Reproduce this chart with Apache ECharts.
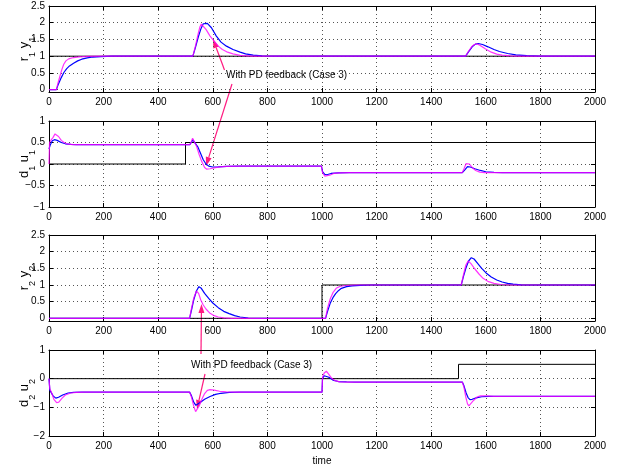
<!DOCTYPE html>
<html>
<head>
<meta charset="utf-8">
<script src="https://cdn.jsdelivr.net/npm/echarts@6/dist/echarts.min.js"></script>
<style>
html, body { margin: 0; background: #fff; }
#chart { width: 624px; height: 472px; }
</style>
</head>
<body>
<div id="chart"></div>
<script>
// time axis
var timeRange = [0, 2000];
var timeStep = 200;

// panel 1: r1 (black), y1 without PD (blue), y1 with PD (magenta)
var r1 = [[0, 1], [2000, 1]];
var y1Blue = [[0, 0], [27, 0], [35, 0.18], [45, 0.36], [55, 0.52], [65, 0.63], [75, 0.71], [90, 0.79], [105, 0.86],
  [120, 0.91], [140, 0.95], [160, 0.975], [190, 0.99], [230, 1], [527, 1], [537, 1.28], [547, 1.58], [557, 1.83],
  [565, 1.97], [572, 2.01], [580, 1.98], [595, 1.85], [613, 1.6], [630, 1.42], [650, 1.3], [674, 1.2], [700, 1.12],
  [720, 1.07], [748, 1.03], [780, 1.01], [830, 1], [1526, 1], [1536, 1.12], [1550, 1.28], [1562, 1.36], [1572, 1.38],
  [1588, 1.35], [1608, 1.28], [1630, 1.2], [1650, 1.14], [1680, 1.08], [1710, 1.04], [1750, 1.015], [1800, 1], [2000, 1]];
var y1Pd = [[0, 0], [27, 0], [33, 0.2], [40, 0.4], [47, 0.6], [54, 0.76], [62, 0.86], [72, 0.92], [90, 0.96],
  [110, 0.98], [140, 0.995], [200, 1], [527, 1], [537, 1.32], [546, 1.66], [553, 1.88], [558, 1.96], [565, 1.92],
  [575, 1.8], [590, 1.6], [602, 1.48], [620, 1.3], [635, 1.2], [651, 1.13], [674, 1.07], [700, 1.025], [740, 1],
  [1526, 1], [1536, 1.14], [1548, 1.28], [1558, 1.35], [1566, 1.37], [1578, 1.33], [1598, 1.22], [1620, 1.12],
  [1640, 1.06], [1660, 1.03], [1690, 1.01], [1720, 1], [2000, 1]];

// panel 2: d1 (black), u1 without PD (blue), u1 with PD (magenta)
var d1 = [[0, 0], [500, 0], [500, 0.5], [2000, 0.5]];
var u1Blue = [[0, 0.35], [5, 0.45], [12, 0.54], [20, 0.565], [30, 0.55], [45, 0.5], [60, 0.47], [80, 0.455],
  [100, 0.45], [516, 0.45], [521, 0.5], [527, 0.56], [534, 0.53], [545, 0.4], [555, 0.25], [565, 0.1], [575, 0.0],
  [585, -0.05], [600, -0.07], [620, -0.065], [650, -0.055], [700, -0.05], [998, -0.05], [1002, -0.18], [1010, -0.24],
  [1018, -0.25], [1033, -0.22], [1060, -0.205], [1100, -0.2], [1514, -0.2], [1524, -0.13], [1533, -0.06],
  [1543, -0.07], [1560, -0.11], [1580, -0.15], [1600, -0.18], [1630, -0.195], [1660, -0.2], [2000, -0.2]];
var u1Pd = [[0, 0], [2, 0.5], [8, 0.56], [15, 0.62], [22, 0.7], [28, 0.7], [35, 0.64], [45, 0.55], [55, 0.5],
  [70, 0.46], [90, 0.45], [516, 0.45], [521, 0.52], [526, 0.6], [531, 0.56], [540, 0.42], [550, 0.22], [560, 0.05],
  [570, -0.08], [578, -0.12], [590, -0.11], [605, -0.09], [625, -0.065], [650, -0.055], [700, -0.05], [998, -0.05],
  [1002, -0.2], [1010, -0.28], [1017, -0.3], [1028, -0.26], [1043, -0.22], [1065, -0.205], [1100, -0.2],
  [1514, -0.2], [1521, -0.1], [1528, 0.01], [1533, 0.03], [1540, 0.0], [1550, -0.08], [1563, -0.15],
  [1578, -0.19], [1595, -0.2], [2000, -0.2]];

// panel 3: r2 (black), y2 without PD (blue), y2 with PD (magenta)
var r2 = [[0, 0], [1000, 0], [1000, 1], [2000, 1]];
var y2Blue = [[0, 0], [515, 0], [522, 0.25], [530, 0.55], [540, 0.82], [549, 0.95], [558, 0.9], [570, 0.75],
  [585, 0.6], [600, 0.46], [620, 0.32], [640, 0.21], [660, 0.14], [680, 0.08], [700, 0.04], [730, 0.01], [760, 0],
  [1013, 0], [1020, 0.2], [1030, 0.45], [1040, 0.62], [1050, 0.74], [1060, 0.83], [1071, 0.9], [1090, 0.95],
  [1110, 0.975], [1140, 0.99], [1180, 1], [1510, 1], [1518, 1.25], [1527, 1.5], [1537, 1.72], [1547, 1.82],
  [1557, 1.78], [1570, 1.65], [1585, 1.5], [1600, 1.37], [1620, 1.24], [1640, 1.15], [1660, 1.09], [1680, 1.05],
  [1700, 1.025], [1730, 1.005], [1760, 1], [2000, 1]];
var y2Pd = [[0, 0], [515, 0], [522, 0.3], [530, 0.6], [540, 0.82], [548, 0.75], [556, 0.55], [565, 0.4],
  [575, 0.28], [590, 0.15], [605, 0.08], [620, 0.04], [640, 0.015], [670, 0], [1013, 0], [1020, 0.3], [1030, 0.58],
  [1040, 0.77], [1052, 0.9], [1065, 0.955], [1085, 0.985], [1120, 1], [1510, 1], [1518, 1.3], [1527, 1.6],
  [1535, 1.72], [1545, 1.65], [1560, 1.48], [1575, 1.33], [1590, 1.2], [1610, 1.1], [1630, 1.05], [1655, 1.015],
  [1690, 1], [2000, 1]];

// panel 4: d2 (black), u2 without PD (blue), u2 with PD (magenta)
var d2 = [[0, 0], [1500, 0], [1500, 0.5], [2000, 0.5]];
var u2Blue = [[0, 0], [3, -0.4], [8, -0.45], [15, -0.6], [25, -0.68], [35, -0.65], [50, -0.57], [70, -0.5],
  [90, -0.48], [120, -0.47], [515, -0.47], [522, -0.6], [530, -0.82], [538, -0.93], [545, -0.9], [555, -0.82],
  [570, -0.72], [590, -0.62], [610, -0.55], [630, -0.51], [660, -0.48], [700, -0.47], [1000, -0.47], [1002, 0.02],
  [1008, 0.1], [1015, 0.12], [1025, 0.05], [1040, -0.05], [1060, -0.1], [1090, -0.115], [1120, -0.12],
  [1514, -0.12], [1520, -0.25], [1528, -0.5], [1535, -0.66], [1542, -0.73], [1550, -0.72], [1565, -0.67],
  [1585, -0.63], [1610, -0.62], [2000, -0.62]];
var u2Pd = [[0, 0], [3, -0.35], [10, -0.5], [18, -0.72], [28, -0.84], [36, -0.82], [48, -0.68], [60, -0.57],
  [80, -0.5], [100, -0.48], [130, -0.47], [515, -0.47], [522, -0.65], [530, -0.95], [537, -1.15], [543, -1.12],
  [550, -0.95], [560, -0.72], [570, -0.52], [580, -0.41], [590, -0.38], [605, -0.4], [625, -0.44], [650, -0.46],
  [680, -0.47], [1000, -0.47], [1002, 0.05], [1008, 0.2], [1016, 0.26], [1025, 0.15], [1035, 0.02], [1048, -0.07],
  [1065, -0.11], [1100, -0.12], [1514, -0.12], [1520, -0.3], [1527, -0.65], [1533, -0.88], [1538, -0.95],
  [1545, -0.9], [1555, -0.76], [1568, -0.64], [1580, -0.6], [1600, -0.6], [1630, -0.615], [1660, -0.62], [2000, -0.62]];

// y axis ranges and label steps
var yRanges = [[-0.07, 2.5], [-1, 1], [-0.08, 2.5], [-2, 1]];
var ySteps = [0.5, 0.5, 0.5, 1];
var yNames = ['{m|r}{s|1}{m| y}{s|1}', '{m|d}{s|1}{m| u}{s|1}', '{m|r}{s|2}{m| y}{s|2}', '{m|d}{s|2}{m| u}{s|2}'];
var annotationText = 'With PD feedback (Case 3)';

var font = 'Liberation Sans, Arial, sans-serif';
var gridTops = [6, 121, 235, 350];
var panels = [[r1, y1Blue, y1Pd], [d1, u1Blue, u1Pd], [r2, y2Blue, y2Pd], [d2, u2Blue, u2Pd]];

var grids = [], xAxes = [], yAxes = [], series = [];

function fmt(step) {
  return function (v) {
    var k = v / step;
    if (Math.abs(k - Math.round(k)) > 1e-6) return '';
    return String(+v.toFixed(2)).replace('-', '\u2212');
  };
}

panels.forEach(function (p, i) {
  grids.push({ left: 49, width: 546, top: gridTops[i], height: 86, containLabel: false, outerBoundsMode: 'none' });
  var axLine = { onZero: false, lineStyle: { color: '#000', width: 1 } };
  var tick = { inside: true, length: 4, lineStyle: { color: '#000' } };
  xAxes.push({
    type: 'value', gridIndex: i, min: timeRange[0], max: timeRange[1], interval: timeStep,
    axisLine: axLine, axisTick: tick,
    axisLabel: { fontSize: 10, color: '#000', margin: 5, fontFamily: font, formatter: function (v) { return String(v); } },
    splitLine: { show: true, lineStyle: { color: '#555', type: [1, 3], width: 1 } },
    name: i === 3 ? 'time' : '', nameLocation: 'middle', nameGap: 20, nameMoveOverlap: false,
    nameTextStyle: { fontSize: 10, color: '#000', fontFamily: font }
  });
  xAxes.push({
    type: 'value', gridIndex: i, position: 'top', min: timeRange[0], max: timeRange[1], interval: timeStep,
    axisLine: axLine, axisTick: tick, axisLabel: { show: false }, splitLine: { show: false }
  });
  var yBase = {
    type: 'value', gridIndex: i, min: yRanges[i][0], max: yRanges[i][1],
    axisLine: axLine, axisTick: tick
  };
  if (i === 1 || i === 3) yBase.interval = ySteps[i];
  else yBase.splitNumber = 5;
  yAxes.push(Object.assign({}, yBase, {
    axisLabel: { fontSize: 10, color: '#000', margin: 4, fontFamily: font, formatter: fmt(ySteps[i]) },
    splitLine: { show: true, lineStyle: { color: '#555', type: [1, 3], width: 1 } },
    name: yNames[i], nameLocation: 'middle', nameRotate: 90, nameGap: 12, nameMoveOverlap: false,
    nameTextStyle: {
      color: '#000', fontFamily: font,
      rich: {
        m: { fontSize: 13, lineHeight: 26, color: '#000', fontFamily: font },
        s: { fontSize: 9, lineHeight: 9, verticalAlign: 'bottom', color: '#000', fontFamily: font }
      }
    }
  }));
  yAxes.push(Object.assign({}, yBase, {
    position: 'right', axisLabel: { show: false }, splitLine: { show: false }
  }));
  var colors = ['#000000', '#0000ff', '#ff00ff'];
  var widths = [1, 1.2, 1.2];
  var opac = [1, 1, 0.8];
  p.forEach(function (d, j) {
    series.push({
      type: 'line', xAxisIndex: i * 2, yAxisIndex: i * 2, data: d,
      symbol: 'none', silent: true,
      lineStyle: { color: colors[j], width: widths[j], opacity: opac[j] }
    });
  });
});

var pink = '#ff1a80';
function arrow(x1, y1, x2, y2) {
  var a = Math.atan2(y2 - y1, x2 - x1), L = 9, W = 3;
  var bx = x2 - L * Math.cos(a), by = y2 - L * Math.sin(a);
  var nx = -Math.sin(a) * W, ny = Math.cos(a) * W;
  return [
    { type: 'line', shape: { x1: x1, y1: y1, x2: bx, y2: by }, style: { stroke: pink, lineWidth: 1.2 } },
    { type: 'polygon', shape: { points: [[x2, y2], [bx + nx, by + ny], [bx - nx, by - ny]] }, style: { fill: pink } }
  ];
}

var graphic = [].concat(
  arrow(224.5, 70, 213, 39),
  arrow(232, 84, 206, 166),
  arrow(201, 354, 201.5, 304),
  arrow(205, 374, 197, 409),
  [
    { type: 'text', left: 226, top: 70, style: { text: annotationText, fontSize: 10, fill: '#000', font: '10px ' + font } },
    { type: 'text', left: 191, top: 360, style: { text: annotationText, fontSize: 10, fill: '#000', font: '10px ' + font } }
  ]
);

var chart = echarts.init(document.getElementById('chart'));
chart.setOption({
  animation: false,
  backgroundColor: '#fff',
  grid: grids,
  xAxis: xAxes,
  yAxis: yAxes,
  series: series,
  graphic: graphic
});
</script>
</body>
</html>
